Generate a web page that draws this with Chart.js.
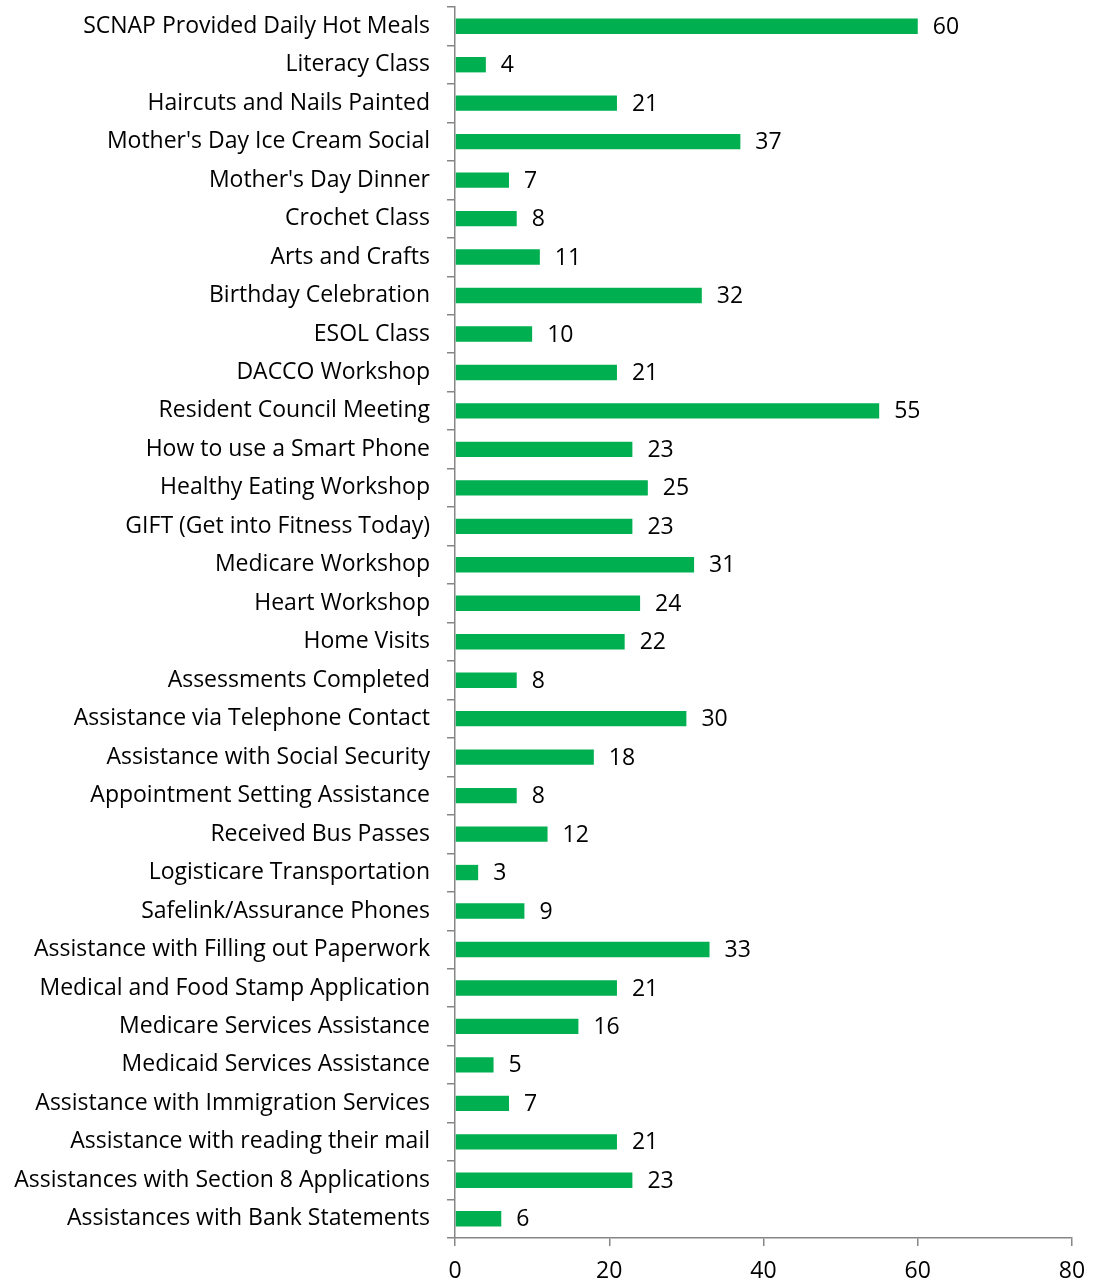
<!DOCTYPE html>
<html lang="en">
<head>
  <meta charset="UTF-8" />
  <title>Activities and Services</title>
  <script src="https://cdn.jsdelivr.net/npm/chart.js"></script>
  <style>
    body { margin: 0; background: #ffffff; }
    #wrap { width: 1103px; height: 1281px; }
  </style>
</head>
<body>
<div id="wrap"><canvas id="barChart" width="1103" height="1281"></canvas></div>

<script>
// categories, top to bottom
const activities = [
  'SCNAP Provided Daily Hot Meals',
  'Literacy Class',
  'Haircuts and Nails Painted',
  "Mother's Day Ice Cream Social",
  "Mother's Day Dinner",
  'Crochet Class',
  'Arts and Crafts',
  'Birthday Celebration',
  'ESOL Class',
  'DACCO Workshop',
  'Resident Council Meeting',
  'How to use a Smart Phone',
  'Healthy Eating Workshop',
  'GIFT (Get into Fitness Today)',
  'Medicare Workshop',
  'Heart Workshop',
  'Home Visits',
  'Assessments Completed',
  'Assistance via Telephone Contact',
  'Assistance with Social Security',
  'Appointment Setting Assistance',
  'Received Bus Passes',
  'Logisticare Transportation',
  'Safelink/Assurance Phones',
  'Assistance with Filling out Paperwork',
  'Medical and Food Stamp Application',
  'Medicare Services Assistance',
  'Medicaid Services Assistance',
  'Assistance with Immigration Services',
  'Assistance with reading their mail',
  'Assistances with Section 8 Applications',
  'Assistances with Bank Statements'
];

const counts = [60, 4, 21, 37, 7, 8, 11, 32, 10, 21, 55, 23, 25, 23, 31, 24, 22, 8, 30, 18, 8, 12, 3, 9, 33, 21, 16, 5, 7, 21, 23, 6];

const xTicks = [0, 20, 40, 60, 80];

const FONT = '"Open Sans", sans-serif';
const FONT_SIZE = 23;
const AXIS_GREY = '#868686';

// value labels to the right of each bar
const valueLabels = {
  id: 'valueLabels',
  afterDatasetsDraw(chart) {
    const ctx = chart.ctx;
    const meta = chart.getDatasetMeta(0);
    ctx.save();
    ctx.font = FONT_SIZE + 'px ' + FONT;
    ctx.fillStyle = '#000000';
    ctx.textAlign = 'left';
    ctx.textBaseline = 'middle';
    meta.data.forEach((bar, i) => {
      ctx.fillText(String(counts[i]), bar.x + 15, bar.y + 1);
    });
    ctx.restore();
  }
};

new Chart(document.getElementById('barChart'), {
  type: 'bar',
  data: {
    labels: activities,
    datasets: [{
      data: counts,
      backgroundColor: '#00B050',
      borderWidth: 0,
      barPercentage: 0.4,
      categoryPercentage: 1
    }]
  },
  options: {
    indexAxis: 'y',
    responsive: false,
    animation: false,
    layout: { padding: { top: 7, right: 31, left: 0, bottom: 0 } },
    plugins: {
      legend: { display: false },
      tooltip: { enabled: false }
    },
    scales: {
      x: {
        min: 0,
        max: 80,
        afterBuildTicks(scale) {
          scale.ticks = xTicks.map(v => ({ value: v }));
        },
        afterFit(scale) {
          scale.height = 43;
          scale.paddingLeft = 0;
          scale.paddingRight = 0;
        },
        border: { color: AXIS_GREY, width: 1.5 },
        grid: { drawOnChartArea: false, color: AXIS_GREY, tickLength: 8, lineWidth: 1.5 },
        ticks: { color: '#000000', font: { family: FONT, size: FONT_SIZE }, padding: 12 }
      },
      y: {
        afterFit(scale) {
          scale.width = 455;
          scale.paddingTop = 0;
          scale.paddingBottom = 0;
        },
        border: { color: AXIS_GREY, width: 1.5 },
        grid: { drawOnChartArea: false, color: AXIS_GREY, tickLength: 8, lineWidth: 1.5, offset: true },
        ticks: { color: '#000000', font: { family: FONT, size: FONT_SIZE }, padding: 17, autoSkip: false }
      }
    }
  },
  plugins: [valueLabels]
});
</script>
</body>
</html>
